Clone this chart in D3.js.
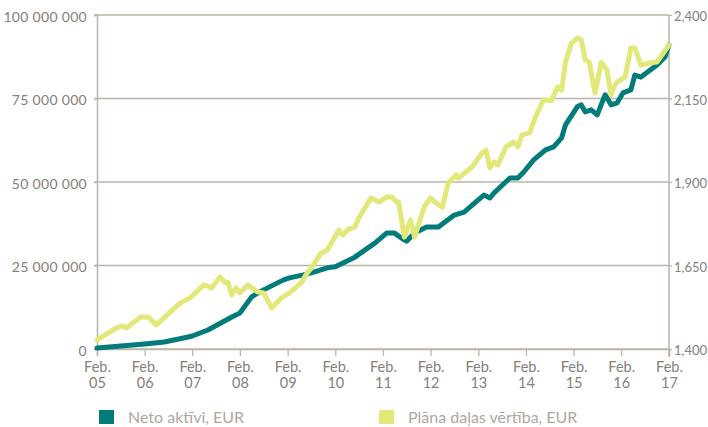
<!DOCTYPE html>
<html>
<head>
<meta charset="utf-8">
<script src="https://cdn.jsdelivr.net/npm/d3@7"></script>
<style>
  body { margin: 0; background: #fff; }
  svg { display: block; font-family: Lato, "Open Sans", sans-serif; }
</style>
</head>
<body>
<svg id="chart" width="708" height="427"></svg>
<script>
// net assets, EUR (left axis)
const netDates = ['2005-02-01','2006-02-01','2006-07-01','2007-01-01','2007-02-01','2007-06-01','2007-12-01','2008-02-01',
  '2008-05-01','2008-07-01','2009-01-01','2009-02-15','2009-06-01','2009-08-01','2009-12-01','2010-02-01','2010-07-01',
  '2010-12-01','2011-03-01','2011-05-01','2011-07-01','2011-08-01','2011-10-01','2012-01-01','2012-04-01','2012-08-01',
  '2012-10-15','2013-03-15','2013-05-01','2013-06-01','2013-10-01','2013-12-01','2014-01-15','2014-04-01','2014-07-01',
  '2014-09-01','2014-11-01','2014-12-01','2015-03-01','2015-04-01','2015-05-01','2015-06-15','2015-08-01','2015-09-15',
  '2015-10-01','2015-11-15','2016-01-01','2016-02-15','2016-04-15','2016-05-15','2016-07-01','2016-11-01','2017-01-01','2017-02-01'];
const netValues = [0.3,1.5,2.1,3.6,3.9,5.7,9.6,10.8,
  15.6,17.1,20.7,21.3,22.2,22.8,24.3,24.6,27.5,
  31.7,34.7,34.7,33.0,32.3,34.7,36.5,36.5,40.1,
  41.0,46.1,45.2,46.7,51.2,51.2,53.0,56.6,59.6,
  60.5,63.2,67.1,72.5,73.1,71.0,71.6,70.1,74.6,
  76.1,73.1,73.7,76.7,77.6,82.0,81.4,85.0,87.4,91.0].map(v => v * 1e6);

// plan unit value (right axis)
const unitDates = ['2005-02-01','2005-07-01','2005-08-15','2005-09-15','2006-01-01','2006-03-01','2006-05-01','2006-11-01',
  '2007-01-15','2007-05-01','2007-07-01','2007-09-01','2007-10-15','2007-11-01','2007-12-01','2008-01-01','2008-02-01',
  '2008-04-01','2008-06-15','2008-08-01','2008-10-01','2008-12-15','2009-02-15','2009-05-15','2009-07-01','2009-08-01',
  '2009-10-15','2009-12-01','2010-03-01','2010-04-01','2010-05-15','2010-07-01','2010-08-01','2010-11-01','2011-01-01',
  '2011-03-01','2011-04-15','2011-05-15','2011-06-01','2011-07-15','2011-09-01','2011-10-01','2011-12-15','2012-02-01',
  '2012-03-15','2012-05-01','2012-06-15','2012-08-15','2012-09-01','2012-12-15','2013-03-01','2013-04-01','2013-05-01',
  '2013-06-01','2013-07-01','2013-09-01','2013-11-01','2013-12-01','2014-01-01','2014-03-01','2014-04-15','2014-06-15',
  '2014-08-15','2014-10-01','2014-11-01','2014-12-01','2015-01-15','2015-03-01','2015-04-01','2015-05-01','2015-06-01',
  '2015-07-15','2015-09-01','2015-10-15','2015-11-15','2015-12-01','2016-01-01','2016-03-01','2016-04-15','2016-05-15',
  '2016-07-01','2016-09-01','2016-11-01','2017-02-01'];
const unitValues = [1427,1463,1469,1463,1496,1496,1472,1538,
  1553,1592,1583,1616,1598,1600,1562,1583,1568,
  1592,1571,1568,1523,1553,1568,1598,1628,1643,
  1687,1696,1756,1741,1759,1765,1792,1852,1840,
  1855,1855,1840,1840,1735,1786,1735,1825,1852,
  1837,1825,1897,1921,1912,1945,1987,1996,1942,
  1960,1951,2005,2020,2005,2041,2047,2095,2146,
  2143,2184,2175,2259,2316,2331,2325,2265,2259,
  2166,2259,2235,2160,2181,2199,2214,2301,2301,
  2250,2256,2259,2310];

const leftTicks = [0, 25e6, 50e6, 75e6, 100e6];
const rightTicks = [1400, 1650, 1900, 2150, 2400];
const xTickYears = ['05','06','07','08','09','10','11','12','13','14','15','16','17'];
const seriesNames = ['Neto aktīvi, EUR', 'Plāna daļas vērtība, EUR'];

const parse = d3.timeParse('%Y-%m-%d');
const netData = netDates.map((d, i) => [parse(d), netValues[i]]);
const unitData = unitDates.map((d, i) => [parse(d), unitValues[i]]);

const m = {left: 97, right: 669, top: 15, bottom: 349};
const gridColor = '#bdb4ab', textColor = '#85807b', legendColor = '#aea79f';
const teal = '#027b7b', lime = '#e2e87a';

const svg = d3.select('#chart');

const x = d3.scaleTime()
  .domain([parse('2005-02-01'), parse('2017-02-01')])
  .range([m.left, m.right]);
const yL = d3.scaleLinear().domain([0, 100e6]).range([m.bottom, m.top]);
const yR = d3.scaleLinear().domain([1400, 2400]).range([m.bottom, m.top]);

// gridlines
svg.append('g')
  .selectAll('line')
  .data(leftTicks)
  .join('line')
    .attr('x1', m.left - 3)
    .attr('x2', m.right)
    .attr('y1', d => yL(d))
    .attr('y2', d => yL(d))
    .attr('stroke', gridColor)
    .attr('stroke-width', 1.3);

// left axis
const axL = svg.append('g')
  .attr('transform', `translate(${m.left},0)`)
  .call(d3.axisLeft(yL).tickValues(leftTicks).tickSize(3).tickPadding(7)
    .tickFormat(d => d3.format(',')(d).replace(/,/g, ' ')));
// right axis
const axR = svg.append('g')
  .attr('transform', `translate(${m.right},0)`)
  .call(d3.axisRight(yR).tickValues(rightTicks).tickSize(3).tickPadding(2)
    .tickFormat(d3.format(',')));
// bottom axis
const tickDates = xTickYears.map(y => parse('20' + y + '-02-01'));
const axB = svg.append('g')
  .attr('transform', `translate(0,${m.bottom})`)
  .call(d3.axisBottom(x).tickValues(tickDates).tickSize(7).tickFormat(''));

[axL, axR, axB].forEach(ax => {
  ax.select('.domain').attr('stroke', gridColor).attr('stroke-width', 1.5);
  ax.selectAll('.tick line').attr('stroke', gridColor).attr('stroke-width', 1.3);
  ax.selectAll('.tick text').attr('fill', textColor).style('font-family', 'Lato, sans-serif');
});
axL.selectAll('.tick text').style('font-size', '14px').style('letter-spacing', '0.3px').attr('dy', '0.45em');
axR.selectAll('.tick text').style('font-size', '13px').attr('dy', '0.45em');
axR.select('.domain').attr('d', `M0,${m.top}V${m.bottom + 8}`);

// two-line date labels
axB.selectAll('.tick').each(function(d, i) {
  const g = d3.select(this);
  ['Feb.', xTickYears[i]].forEach((t, j) => {
    g.append('text')
      .attr('fill', textColor)
      .attr('text-anchor', 'middle')
      .attr('y', j === 0 ? 22.5 : 39)
      .style('font-size', '14.5px')
      .style('font-family', 'Lato, sans-serif')
      .text(t);
  });
});

// lines
const lineL = d3.line().x(d => x(d[0])).y(d => yL(d[1]));
const lineR = d3.line().x(d => x(d[0])).y(d => yR(d[1]));

svg.append('path')
  .datum(netData)
  .attr('d', lineL)
  .attr('fill', 'none')
  .attr('stroke', teal)
  .attr('stroke-width', 5)
  .attr('stroke-linejoin', 'round')
  .attr('stroke-linecap', 'round');

svg.append('path')
  .datum(unitData)
  .attr('d', lineR)
  .attr('fill', 'none')
  .attr('stroke', lime)
  .attr('stroke-width', 5)
  .attr('stroke-linejoin', 'round')
  .attr('stroke-linecap', 'round');

// legend
const legend = svg.append('g')
  .selectAll('g')
  .data(seriesNames)
  .join('g')
    .attr('transform', (d, i) => `translate(${i === 0 ? 99 : 379},410)`);
legend.append('rect')
  .attr('width', 15)
  .attr('height', 14)
  .attr('fill', (d, i) => i === 0 ? teal : lime);
legend.append('text')
  .attr('x', 29)
  .attr('y', 12.5)
  .attr('fill', legendColor)
  .style('font-size', '16px')
  .text(d => d);
</script>
</body>
</html>
